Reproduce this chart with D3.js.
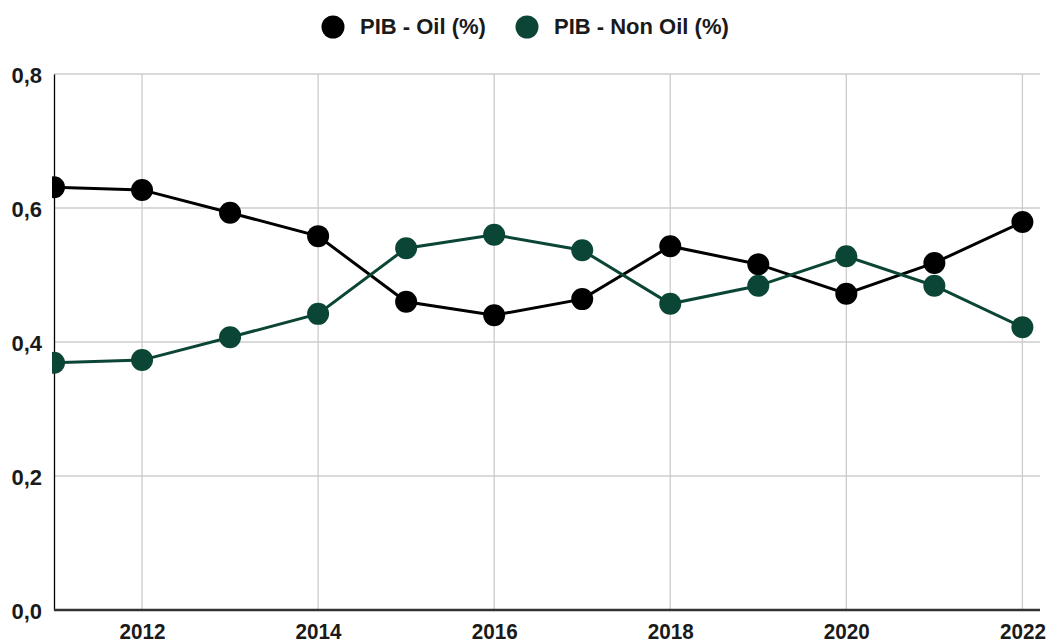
<!DOCTYPE html>
<html><head><meta charset="utf-8">
<script src="https://cdn.jsdelivr.net/npm/d3@7"></script>
<style>body{margin:0;background:#fff}svg{display:block;font-family:"Liberation Sans",Arial,sans-serif}</style>
</head><body><svg id="c" width="1049" height="644"></svg>
<script>
const years = [2011,2012,2013,2014,2015,2016,2017,2018,2019,2020,2021,2022];
const oil = [0.631,0.627,0.593,0.558,0.460,0.440,0.464,0.543,0.516,0.472,0.518,0.579];
const nonOil = [0.369,0.373,0.407,0.442,0.540,0.560,0.537,0.457,0.484,0.528,0.484,0.422];
const seriesNames = ["PIB - Oil (%)","PIB - Non Oil (%)"];
const colors = ["#000000","#0b4536"];
const xTicks = [2012,2014,2016,2018,2020,2022];
const yTicks = [0,0.2,0.4,0.6,0.8];

const FONT = "Liberation Sans";
const FS = 22;
const svg = d3.select("#c");
const L=54, R=1040, T=74, B=610;
const x = d3.scaleLinear().domain([2011,2022.2]).range([L,R]);
const y = d3.scaleLinear().domain([0,0.8]).range([B,T]);

// gridlines
svg.append("g").selectAll("line").data(yTicks.filter(d=>d>0)).join("line")
  .attr("x1",L).attr("x2",R).attr("y1",d=>y(d)).attr("y2",d=>y(d))
  .attr("stroke","#cccccc").attr("stroke-width",1.3);
svg.append("g").selectAll("line").data(xTicks).join("line")
  .attr("x1",d=>x(d)).attr("x2",d=>x(d)).attr("y1",T).attr("y2",B)
  .attr("stroke","#cccccc").attr("stroke-width",1.3);

// axes
const yAxis = svg.append("g").attr("transform",`translate(${L},0)`)
  .call(d3.axisLeft(y).tickValues(yTicks).tickSize(0).tickPadding(12)
    .tickFormat(d=>d3.format(".1f")(d).replace(".",",")));
yAxis.select(".domain").attr("stroke","#000").attr("stroke-width",1.3);
yAxis.selectAll("text").attr("font-size",FS).attr("font-weight","bold").attr("fill","#1a1a1a")
  .attr("font-family",FONT).attr("dy","0.4em");

const xAxis = svg.append("g").attr("transform",`translate(0,${B})`)
  .call(d3.axisBottom(x).tickValues(xTicks).tickSize(0).tickPadding(13).tickFormat(d3.format("d")));
xAxis.select(".domain").remove();
xAxis.selectAll("text").attr("font-size",FS).attr("font-weight","bold").attr("fill","#1a1a1a")
  .attr("font-family",FONT).attr("textLength",46).attr("lengthAdjust","spacingAndGlyphs");
svg.append("line").attr("x1",L).attr("x2",R).attr("y1",B).attr("y2",B).attr("stroke","#333").attr("stroke-width",2.5);

svg.append("clipPath").attr("id","clip").append("rect").attr("x",L-2).attr("y",0).attr("width",R-L+22).attr("height",B);

const data = [oil, nonOil];
const line = d3.line().x((d,i)=>x(years[i])).y(d=>y(d));
const g = svg.append("g").attr("clip-path","url(#clip)");
data.forEach((s,k)=>{
  g.append("path").datum(s).attr("d",line).attr("fill","none").attr("stroke",colors[k]).attr("stroke-width",3);
});
data.forEach((s,k)=>{
  g.append("g").selectAll("circle").data(s).join("circle")
    .attr("cx",(d,i)=>x(years[i])).attr("cy",d=>y(d)).attr("r",11).attr("fill",colors[k]);
});

// legend
const leg = svg.append("g");
const lx = [333, 527];
seriesNames.forEach((n,k)=>{
  leg.append("circle").attr("cx",lx[k]).attr("cy",27).attr("r",11.5).attr("fill",colors[k]);
  leg.append("text").attr("x",lx[k]+27).attr("y",34).text(n)
    .attr("font-size",FS).attr("font-weight","bold").attr("fill","#1a1a1a").attr("font-family",FONT);
});
</script></body></html>
